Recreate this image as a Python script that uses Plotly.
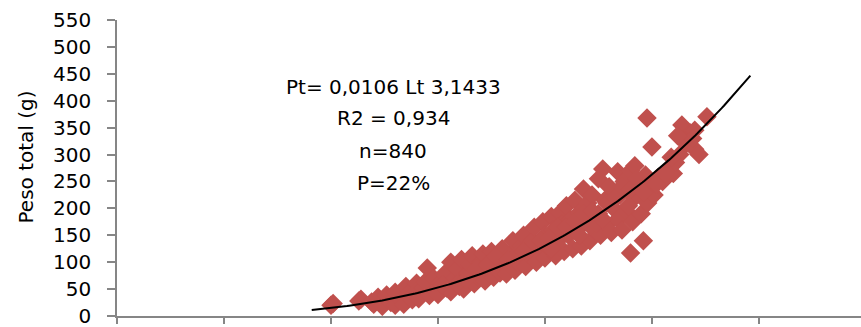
import numpy as np
import plotly.graph_objects as go

# Total length (cm) and total weight (g) of the sampled fish
lt_cm = [
    10.0, 10.1, 11.3, 11.4, 11.9, 12.0, 12.2, 12.4, 12.5, 12.6,
    12.8, 13.0, 13.0, 13.2, 13.4, 13.5, 13.6, 13.8, 14.0, 14.0,
    14.1, 14.3, 14.4, 14.5, 14.6, 14.8, 14.9, 15.0, 15.1, 15.3,
    15.4, 15.6, 15.6, 15.8, 15.9, 16.0, 16.1, 16.2, 16.4, 16.5,
    16.6, 16.7, 16.9, 17.0, 17.1, 17.2, 17.4, 17.5, 17.6, 17.8,
    17.9, 18.0, 18.1, 18.2, 18.4, 18.5, 18.6, 18.7, 18.9, 19.0,
    19.1, 19.2, 19.4, 19.5, 19.6, 19.7, 19.9, 20.0, 20.0, 20.1,
    20.3, 20.4, 20.5, 20.6, 20.7, 20.8, 20.9, 21.0, 21.1, 21.2,
    21.3, 21.4, 21.5, 21.6, 21.7, 21.8, 21.9, 22.0, 22.1, 22.2,
    22.3, 22.5, 22.5, 22.6, 22.7, 22.8, 22.9, 23.0, 23.1, 23.2,
    23.4, 23.4, 23.5, 23.6, 23.7, 23.8, 24.0, 24.0, 24.1, 24.2,
    24.2, 24.4, 24.5, 24.6, 24.7, 24.77, 24.8, 25.0, 25.0, 25.1,
    25.3, 25.5, 25.8, 26.0, 26.3, 26.4, 26.6, 26.8, 27.0, 27.2,
    27.0, 27.57,
    # denser middle of the cloud
    15.2, 15.9, 16.3, 16.8, 17.3, 17.7, 18.3, 18.8, 19.3, 19.8,
    20.2, 20.6, 21.0, 21.4, 21.8, 22.2, 22.4, 22.9, 23.3, 23.6,
    24.0, 24.3, 24.6, 25.2, 25.6, 26.1, 26.5, 26.9, 25.9, 26.2,
    19.0, 20.3, 21.6, 22.7, 23.9,
]
pt_g = [
    20, 23, 28, 31, 26, 22, 35, 18, 30, 39,
    25, 20, 44, 33, 22, 55, 40, 30, 61, 46,
    32, 52, 63, 89, 38, 70, 48, 40, 62, 78,
    52, 100, 45, 70, 88, 55, 105, 50, 80, 95,
    112, 60, 72, 100, 115, 65, 88, 120, 72, 105,
    80, 125, 95, 78, 115, 140, 85, 100, 130, 150,
    92, 115, 140, 165, 100, 125, 175, 150, 108, 130,
    185, 160, 112, 140, 192, 170, 120, 205, 150, 180,
    125, 215, 160, 192, 130, 236, 175, 210, 140, 225,
    160, 255, 190, 150, 273, 215, 170, 240, 155, 200,
    268, 180, 225, 160, 250, 195, 117, 270, 175, 279,
    220, 245, 190, 140, 262, 368, 210, 314, 240, 225,
    258, 250, 275, 265, 300, 355, 320, 340, 310, 300,
    345, 370,
    58, 60, 68, 88, 95, 110, 105, 118, 125, 140,
    145, 165, 165, 175, 190, 195, 172, 210, 220, 240,
    235, 255, 230, 245, 265, 285, 325, 330, 295, 335,
    120, 125, 150, 180, 205,
]

# Fitted length-weight relationship Pt = a * Lt^b
coef_a = 0.0106
coef_b = 3.1433
fit_range = (9.1, 29.6)

y_ticks = list(range(0, 551, 50))
y_title = "Peso total (g)"
annot_lines = ["Pt= 0,0106 Lt 3,1433", "R2 = 0,934", "n=840", "P=22%"]
annot_x = 12.9
annot_y = [426, 368, 307, 247]

red = "#C0504D"
axis_grey = "#868686"
font_family = "'DejaVu Sans', sans-serif"
font_size = 20

lt_fit = np.linspace(fit_range[0], fit_range[1], 200)
pt_fit = coef_a * lt_fit ** coef_b

fig = go.Figure()
fig.add_trace(go.Scatter(
    x=lt_cm, y=pt_g, mode="markers",
    marker=dict(symbol="diamond", size=15, color=red, line=dict(width=0)),
    showlegend=False, hoverinfo="skip",
))
fig.add_trace(go.Scatter(
    x=lt_fit, y=pt_fit, mode="lines",
    line=dict(color="black", width=2),
    showlegend=False, hoverinfo="skip",
))

for text, yv in zip(annot_lines, annot_y):
    fig.add_annotation(
        x=annot_x, y=yv, xref="x", yref="y", text=text, showarrow=False,
        font=dict(family=font_family, size=font_size, color="black"),
        xanchor="center", yanchor="middle",
    )

# vertical axis title, left of the tick labels
fig.add_annotation(
    x=-0.1223, y=0.5355, xref="paper", yref="paper", text=y_title,
    showarrow=False, textangle=-90,
    font=dict(family=font_family, size=font_size, color="black"),
    xanchor="center", yanchor="middle",
)

fig.update_layout(
    width=861, height=327,
    margin=dict(l=117, r=0, t=20, b=11),
    paper_bgcolor="white", plot_bgcolor="white",
    font=dict(family=font_family, size=font_size, color="black"),
)
fig.update_xaxes(
    range=[0, 34.77], dtick=5, tick0=0,
    showgrid=False, zeroline=False,
    showline=True, linecolor=axis_grey, linewidth=1.5,
    ticks="outside", ticklen=6, tickcolor=axis_grey, tickwidth=1.5,
    showticklabels=False,
)
fig.update_yaxes(
    range=[0, 550], tickvals=y_ticks,
    showgrid=False, zeroline=False,
    showline=True, linecolor=axis_grey, linewidth=1.5,
    ticks="outside", ticklen=8, tickcolor=axis_grey, tickwidth=1.5,
    tickfont=dict(family=font_family, size=font_size),
    ticklabelstandoff=12,
    ticklabeloverflow="allow",
)

fig.write_html("out.html")
